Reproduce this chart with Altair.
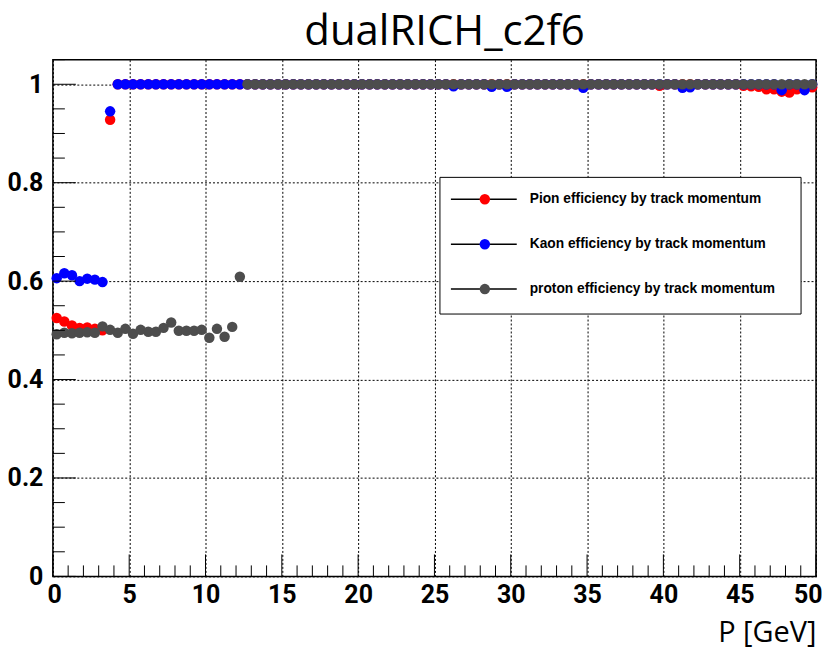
import altair as alt
import pandas as pd

# ---- data (bin centres of 0.5 GeV bins) ----
p_centres = [0.25 + 0.5 * i for i in range(100)]

pion_eff = [0.525, 0.518, 0.510, 0.505, 0.506, 0.503, 0.500, 0.928, 1.0, 1.0,
            1.0, 1.0, 1.0, 1.0, 1.0, 1.0, 1.0, 1.0, 1.0, 1.0,
            1.0, 1.0, 1.0, 1.0, 1.0, 1.0, 1.0, 1.0, 1.0, 1.0,
            1.0, 1.0, 1.0, 1.0, 1.0, 1.0, 1.0, 1.0, 1.0, 1.0,
            1.0, 1.0, 1.0, 1.0, 1.0, 1.0, 1.0, 1.0, 1.0, 1.0,
            1.0, 1.0, 1.0, 1.0, 1.0, 1.0, 1.0, 1.0, 1.0, 1.0,
            1.0, 1.0, 1.0, 1.0, 1.0, 1.0, 1.0, 1.0, 1.0, 1.0,
            1.0, 1.0, 1.0, 1.0, 1.0, 1.0, 1.0, 1.0, 1.0, 0.997,
            1.0, 1.0, 1.0, 1.0, 1.0, 1.0, 1.0, 1.0, 1.0, 1.0,
            0.997, 0.996, 0.995, 0.990, 0.990, 0.985, 0.983, 0.990, 0.992, 0.994]

kaon_eff = [0.606, 0.616, 0.612, 0.600, 0.605, 0.603, 0.598, 0.945, 1.0, 1.0,
            1.0, 1.0, 1.0, 1.0, 1.0, 1.0, 1.0, 1.0, 1.0, 1.0,
            1.0, 1.0, 1.0, 1.0, 1.0, 1.0, 1.0, 1.0, 1.0, 1.0,
            1.0, 1.0, 1.0, 1.0, 1.0, 1.0, 1.0, 1.0, 1.0, 1.0,
            1.0, 1.0, 1.0, 1.0, 1.0, 1.0, 1.0, 1.0, 1.0, 1.0,
            1.0, 1.0, 0.996, 1.0, 1.0, 1.0, 1.0, 0.995, 1.0, 0.995,
            1.0, 1.0, 1.0, 1.0, 1.0, 1.0, 1.0, 1.0, 1.0, 0.993,
            1.0, 1.0, 1.0, 1.0, 1.0, 1.0, 1.0, 1.0, 1.0, 1.0,
            1.0, 1.0, 0.993, 0.994, 1.0, 1.0, 1.0, 1.0, 1.0, 1.0,
            1.0, 1.0, 1.0, 1.0, 1.0, 0.988, 1.0, 1.0, 0.988, 1.0]

proton_eff = [0.492, 0.495, 0.494, 0.495, 0.496, 0.495, 0.508, 0.501, 0.495, 0.503,
              0.493, 0.501, 0.497, 0.497, 0.505, 0.516, 0.499, 0.499, 0.499, 0.501,
              0.485, 0.503, 0.487, 0.507, 0.609, 1.0, 1.0, 1.0, 1.0, 1.0,
              1.0, 1.0, 1.0, 1.0, 1.0, 1.0, 1.0, 1.0, 1.0, 1.0,
              1.0, 1.0, 1.0, 1.0, 1.0, 1.0, 1.0, 1.0, 1.0, 1.0,
              1.0, 1.0, 1.0, 1.0, 1.0, 1.0, 1.0, 1.0, 1.0, 1.0,
              1.0, 1.0, 1.0, 1.0, 1.0, 1.0, 1.0, 1.0, 1.0, 1.0,
              1.0, 1.0, 1.0, 1.0, 1.0, 1.0, 1.0, 1.0, 1.0, 1.0,
              1.0, 1.0, 1.0, 1.0, 1.0, 1.0, 1.0, 1.0, 1.0, 1.0,
              1.0, 1.0, 1.0, 1.0, 1.0, 1.0, 1.0, 1.0, 1.0, 1.0]

series_names = ["Pion efficiency by track momentum",
                "Kaon efficiency by track momentum",
                "proton efficiency by track momentum"]
series_colors = ["#ff0000", "#0000ff", "#4d4d4d"]

x_major = [0, 5, 10, 15, 20, 25, 30, 35, 40, 45, 50]
x_minor = [v for v in range(0, 51) if v % 5 != 0]
y_major = [0, 0.2, 0.4, 0.6, 0.8, 1.0]
y_minor = [0.05, 0.1, 0.15, 0.25, 0.3, 0.35, 0.45, 0.5, 0.55, 0.65, 0.7, 0.75,
           0.85, 0.9, 0.95, 1.05]

# ---- build table ----
rows = []
for k, (name, ys) in enumerate(zip(series_names, [pion_eff, kaon_eff, proton_eff])):
    for xv, yv in zip(p_centres, ys):
        rows.append({"x": xv, "y": yv, "series": name, "k": k})
df = pd.DataFrame(rows)

W, H = 765, 518
TICK_FONT = "Roboto"
xscale = alt.Scale(domain=[0, 50], nice=False, zero=False)
yscale = alt.Scale(domain=[0, 1.05], nice=False, zero=False)

xaxis = alt.Axis(
    values=x_major, ticks=False, domain=False, labelFlush=True, labelFlushOffset=6,
    labelOverlap=False, labelFont=TICK_FONT, labelFontWeight="bold",
    labelFontSize=25, labelColor="black", labelPadding=6,
    grid=True, gridDash=[2, 2], gridColor="black", gridOpacity=1, gridWidth=1,
    title="P [GeV]", titleFont="Open Sans", titleFontSize=29,
    titleFontWeight="normal", titleColor="black", titleAnchor="end",
    titleBaseline="alphabetic", titleY=65)
yaxis = alt.Axis(
    values=y_major, format="~g", ticks=False, domain=False, labelFlush=False,
    labelOverlap=False, labelFont=TICK_FONT, labelFontWeight="bold",
    labelFontSize=25, labelColor="black", labelPadding=10,
    grid=True, gridDash=[2, 2], gridColor="black", gridOpacity=1, gridWidth=1,
    title=None)

points = alt.Chart(df).mark_circle(size=110, opacity=1).encode(
    x=alt.X("x:Q", scale=xscale, axis=xaxis),
    y=alt.Y("y:Q", scale=yscale, axis=yaxis),
    color=alt.Color("series:N", scale=alt.Scale(domain=series_names, range=series_colors),
                    legend=None),
    order=alt.Order("k:Q"),
)

def xticks(vals, length):
    return alt.Chart(pd.DataFrame({"x": vals})).mark_rule(color="black", strokeWidth=1).encode(
        x=alt.X("x:Q", scale=xscale, axis=xaxis),
        y=alt.value(H), y2=alt.value(H - length))

def yticks(vals, length):
    return alt.Chart(pd.DataFrame({"y": vals})).mark_rule(color="black", strokeWidth=1).encode(
        y=alt.Y("y:Q", scale=yscale, axis=yaxis),
        x=alt.value(0), x2=alt.value(length))

# ---- legend (drawn as marks) ----
leg = pd.DataFrame({"series": series_names, "color": series_colors, "row": [0, 1, 2]})
LX0, LX1, LY0, LY1 = 388, 750, 118, 255
row_y = [140, 185, 230]
legend_layers = [
    alt.Chart(pd.DataFrame({"a": [0]})).mark_rect(fill="white", stroke="black", strokeWidth=1).encode(
        x=alt.value(LX0), x2=alt.value(LX1), y=alt.value(LY0), y2=alt.value(LY1))
]
for i, (name, col) in enumerate(zip(series_names, series_colors)):
    d = leg[leg["row"] == i]
    legend_layers.append(alt.Chart(d).mark_rule(color="black", strokeWidth=1.5).encode(
        x=alt.value(399), x2=alt.value(465), y=alt.value(row_y[i])))
    legend_layers.append(alt.Chart(d).mark_circle(size=110, opacity=1, color=col).encode(
        x=alt.value(433), y=alt.value(row_y[i])))
    legend_layers.append(alt.Chart(d).mark_text(
        align="left", baseline="middle", font="Liberation Sans", fontWeight="bold",
        fontSize=13.8, color="black").encode(
        x=alt.value(478), y=alt.value(row_y[i]), text="series:N"))

chart = alt.layer(
    points,
    xticks(x_major, 22), xticks(x_minor, 11),
    yticks(y_major, 23), yticks(y_minor, 12),
    *legend_layers,
).properties(
    width=W, height=H,
    title=alt.TitleParams("dualRICH_c2f6", font="Open Sans", fontSize=42,
                          fontWeight="normal", color="black", anchor="middle",
                          offset=5, dx=10),
    autosize=alt.AutoSizeParams(type="none"),
    padding={"left": 45, "top": 51, "right": 6, "bottom": 72},
).configure_view(stroke="black", strokeWidth=1.5)

chart.save("out.html", embed_options={"renderer": "svg", "actions": False})
